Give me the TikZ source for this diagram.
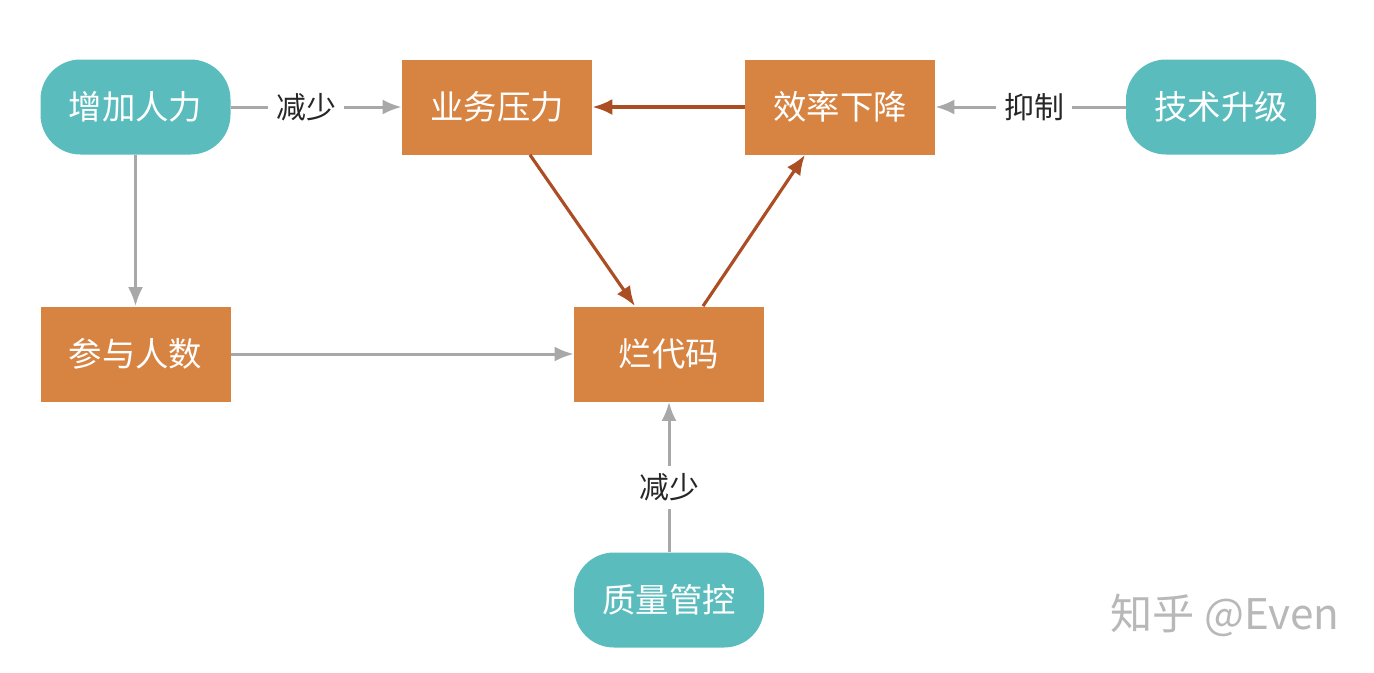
\documentclass[tikz,border=0pt]{standalone}
\usepackage{fontspec}
\setmainfont{Noto Sans CJK SC}
\definecolor{boxorange}{RGB}{215,131,66}
\definecolor{pillteal}{RGB}{91,188,190}
\definecolor{loopbrown}{RGB}{172,78,36}
\definecolor{linkgray}{RGB}{168,168,168}
\usepackage{tikz}
\usetikzlibrary{arrows.meta,positioning}

\tikzset{
  procbox/.style={fill=boxorange, text=white, minimum width=3.8cm, minimum height=1.9cm,
                  font=\fontsize{19}{22}\selectfont},
  ctrlbox/.style={procbox, fill=pillteal, rounded corners=0.8cm},
  grayarrow/.style={draw=linkgray, line width=1.7pt, -{Latex[length=0.38cm,width=0.3cm]}},
  brownarrow/.style={draw=loopbrown, line width=1.8pt, -{Latex[length=0.4cm,width=0.32cm]}},
  gaplabel/.style={fill=white, text=black!85, inner sep=0.16cm, font=\fontsize{17}{20}\selectfont}
}

\begin{document}
\begin{tikzpicture}
  \useasboundingbox (0,0) rectangle (27.48,-13.44);

  % top row
  \node[ctrlbox] (staff)      at (2.71,-2.14)  {增加人力};
  \node[procbox] (pressure)   at (9.94,-2.14)  {业务压力};
  \node[procbox] (efficiency) at (16.8,-2.14)  {效率下降};
  \node[ctrlbox] (upgrade)    at (24.42,-2.14) {技术升级};

  % middle and bottom
  \node[procbox] (headcount) at (2.71,-7.08)  {参与人数};
  \node[procbox] (badcode)   at (13.38,-7.08) {烂代码};
  \node[ctrlbox] (quality)   at (13.38,-12.0) {质量管控};

  \node[text=black!28, font=\fontsize{24}{28}\selectfont] (watermark) at (24.5,-12.3) {知乎 @Even};

  % gray links
  \draw[grayarrow] (staff) -- node[gaplabel, pos=0.44] {减少} (pressure);
  \draw[grayarrow] (upgrade) -- node[gaplabel, pos=0.48] {抑制} (efficiency);
  \draw[grayarrow] (staff) -- (headcount);
  \draw[grayarrow] (headcount) -- (badcode);
  \draw[grayarrow] (quality) -- node[gaplabel, pos=0.43] {减少} (badcode);

  % the loop
  \draw[brownarrow] (efficiency) -- (pressure);
  \draw[brownarrow] ([xshift=0.66cm]pressure.south) -- ([xshift=-0.68cm]badcode.north);
  \draw[brownarrow] ([xshift=0.68cm]badcode.north) -- ([xshift=-0.7cm]efficiency.south);
\end{tikzpicture}
\end{document}
